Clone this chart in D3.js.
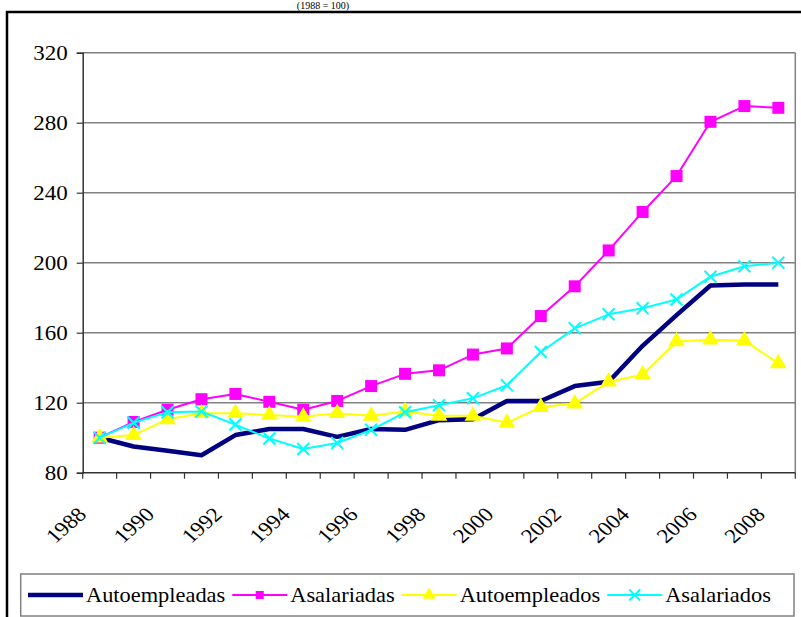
<!doctype html>
<html>
<head>
<script src="https://d3js.org/d3.v7.min.js"></script>
<style>
  body { margin: 0; background: #fff; }
</style>
</head>
<body>
<script>
// categories and tick labels
var years = [1988, 1989, 1990, 1991, 1992, 1993, 1994, 1995, 1996, 1997, 1998,
             1999, 2000, 2001, 2002, 2003, 2004, 2005, 2006, 2007, 2008];
var yTicks = [80, 120, 160, 200, 240, 280, 320];
var xLabels = [1988, 1990, 1992, 1994, 1996, 1998, 2000, 2002, 2004, 2006, 2008];
var titleText = "(1988 = 100)";

// series values (index, 1988 = 100)
var autoempleadas = [100, 95, 92.5, 90, 101.5, 105, 105, 100.5, 105, 104.5, 110,
                     110.5, 121, 121, 129.5, 132, 152.5, 170, 187, 187.5, 187.5];
var asalariadas = [100, 109, 116, 122, 125, 120.5, 116, 121, 129.5, 136.5, 138.5,
                   147.5, 151, 169.5, 186.5, 207, 229, 249.5, 280.5, 289.5, 288.5];
var autoempleados = [100, 101.5, 110.5, 114, 114, 113, 112, 114, 112.5, 115, 112.5,
                     112.5, 108.5, 117.5, 119.5, 132, 136, 155, 156, 155.5, 142.5];
var asalariados = [100, 108.5, 114.5, 115, 107.5, 99.5, 93.5, 97, 104.5, 114.5, 118.5,
                   122.5, 130, 149, 162.5, 170.5, 174, 179, 192, 198, 200];

var seriesNames = ["Autoempleadas", "Asalariadas", "Autoempleados", "Asalariados"];

var FONT = "Liberation Serif";
var FS = 20;        // font size
var SX = 1.15;      // the original picture is a bit stretched sideways

// chart size
var W = 801, H = 617;
var margin = {top: 52.7, left: 82.7, right: 5.7, bottom: 144.3};
var chartWidth = W - margin.left - margin.right,
    chartHeight = H - margin.top - margin.bottom;

var svg = d3.select("body").append("svg")
    .attr("width", W)
    .attr("height", H)
    .attr("font-family", FONT);

// title, sits just above the frame
svg.append("text")
    .attr("x", 323).attr("y", 9)
    .attr("text-anchor", "middle")
    .attr("font-size", 10)
    .text(titleText);

// outer frame
svg.append("rect")
    .attr("x", 7).attr("y", 12)
    .attr("width", 900).attr("height", 700)
    .attr("fill", "none")
    .attr("stroke", "#000")
    .attr("stroke-width", 2.5);

var g = svg.append("g")
    .attr("transform", "translate(" + margin.left + "," + margin.top + ")");

var xScale = d3.scaleBand().domain(years).range([0, chartWidth]);
var yScale = d3.scaleLinear().domain([80, 320]).range([chartHeight, 0]);
var xc = function(d, i) { return xScale(years[i]) + xScale.bandwidth() / 2; };

// gridlines
g.selectAll(".grid").data(yTicks.slice(1)).enter().append("line")
    .attr("x1", 0).attr("x2", chartWidth)
    .attr("y1", d => yScale(d)).attr("y2", d => yScale(d))
    .attr("stroke", "#808080").attr("stroke-width", 1.5);

// right border of plot
g.append("line")
    .attr("x1", chartWidth).attr("x2", chartWidth)
    .attr("y1", 0).attr("y2", chartHeight)
    .attr("stroke", "#808080").attr("stroke-width", 1.5);

// y axis
var y_axis = d3.axisLeft(yScale).tickValues(yTicks).tickSize(6).tickPadding(9);
var yg = g.append("g").call(y_axis).attr("font-family", FONT);
yg.select(".domain").attr("stroke", "#333").attr("stroke-width", 1.5);
yg.selectAll(".tick line").attr("stroke", "#333").attr("stroke-width", 1.2);
yg.selectAll(".tick text")
    .attr("font-size", FS)
    .attr("fill", "#000")
    .attr("x", -15 / SX)
    .attr("transform", "scale(" + SX + ",1)");

// x axis: ticks between categories
var xg = g.append("g").attr("transform", "translate(0," + chartHeight + ")");
xg.append("line")
    .attr("x1", 0).attr("x2", chartWidth)
    .attr("stroke", "#333").attr("stroke-width", 1.5);
xg.selectAll(".xt").data(years.concat(["end"])).enter().append("line")
    .attr("x1", (d, i) => i * xScale.step())
    .attr("x2", (d, i) => i * xScale.step())
    .attr("y1", 0).attr("y2", 6)
    .attr("stroke", "#333").attr("stroke-width", 1.2);
xg.selectAll(".xl").data(xLabels).enter().append("text")
    .attr("transform", d => "translate(" + (xScale(d) + xScale.bandwidth() / 2 - 12) + ",43) scale(" + SX + ",1) rotate(-45)")
    .attr("text-anchor", "end")
    .attr("font-size", FS)
    .text(d => d);

// series
var series = [
  {name: seriesNames[0], values: autoempleadas, color: "#000080", width: 4.5, marker: null},
  {name: seriesNames[1], values: asalariadas, color: "#FF00FF", width: 2, marker: "square"},
  {name: seriesNames[2], values: autoempleados, color: "#FFFF00", width: 2, marker: "triangle"},
  {name: seriesNames[3], values: asalariados, color: "#00FFFF", width: 2, marker: "x"}
];

var line = d3.line()
    .x(xc)
    .y(d => yScale(d));

function drawMarker(sel, s, size) {
  if (s.marker === "square") {
    sel.append("path")
      .attr("d", d3.symbol().type(d3.symbolSquare).size(size * size)())
      .attr("fill", s.color);
  } else if (s.marker === "triangle") {
    sel.append("path")
      .attr("d", d3.symbol().type(d3.symbolTriangle).size(size * size * 0.62)())
      .attr("fill", s.color);
  } else if (s.marker === "x") {
    var h = size / 2;
    sel.append("path")
      .attr("d", "M" + (-h) + "," + (-h) + "L" + h + "," + h + "M" + (-h) + "," + h + "L" + h + "," + (-h))
      .attr("stroke", s.color)
      .attr("stroke-width", 2)
      .attr("fill", "none");
  }
}

series.forEach(function(s) {
  g.append("path")
    .datum(s.values)
    .attr("fill", "none")
    .attr("stroke", s.color)
    .attr("stroke-width", s.width)
    .attr("stroke-linejoin", "round")
    .attr("d", line);
  if (s.marker) {
    g.selectAll(null).data(s.values).enter().append("g")
      .attr("transform", (d, i) => "translate(" + xc(d, i) + "," + yScale(d) + ")")
      .each(function() { drawMarker(d3.select(this), s, s.marker === "triangle" ? 14 : 12); });
  }
});

// legend
var LSX = 1.12;
var legend = svg.append("g");
legend.append("rect")
    .attr("x", 20.7).attr("y", 574)
    .attr("width", 773.3).attr("height", 42)
    .attr("fill", "#fff")
    .attr("stroke", "#808080").attr("stroke-width", 1.5);

var lx = 28;
series.forEach(function(s) {
  var item = legend.append("g").attr("transform", "translate(" + lx + ",595)");
  item.append("line")
    .attr("x1", 0).attr("x2", 55)
    .attr("stroke", s.color)
    .attr("stroke-width", s.width);
  if (s.marker) {
    var m = item.append("g").attr("transform", "translate(27.5,0)");
    drawMarker(m, s, s.marker === "square" ? 8 : 11);
  }
  var t = item.append("text")
    .attr("transform", "translate(58,7) scale(" + LSX + ",1)")
    .attr("font-size", FS)
    .text(s.name);
  lx += 58 + t.node().getComputedTextLength() * LSX + 7;
});
</script>
</body>
</html>
